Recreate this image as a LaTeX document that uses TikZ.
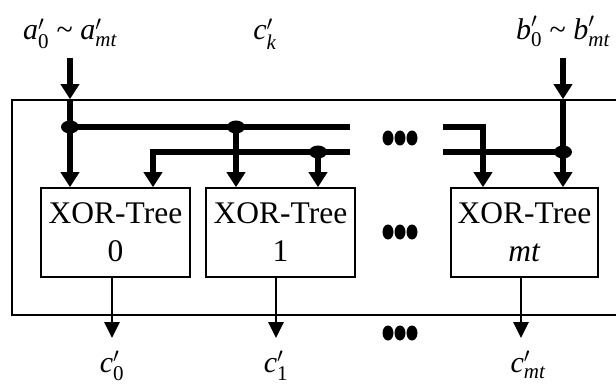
\documentclass[tikz,border=0pt]{standalone}
\usepackage{amsmath}
\usepackage{fontspec}
\setmainfont{Liberation Serif}
\usetikzlibrary{arrows.meta}

% three bold dots in a row
\newcommand{\dotrow}[2]{\foreach \dx in {-12,0,12} \fill (#1+\dx,#2) ellipse [x radius=5.5pt, y radius=7.5pt];}

\begin{document}
\begin{tikzpicture}[x=1pt, y=1pt,
    treebox/.style={draw, line width=1.6pt, minimum width=149pt, minimum height=89pt,
        align=center, inner sep=0pt, font=\fontsize{31.5}{38}\selectfont},
    bus/.style={line width=5.7pt},
    busarrow/.style={line width=5.7pt, -{Triangle[width=18pt,length=15pt]}},
    outarrow/.style={line width=2.7pt, -{Triangle[width=15pt,length=16pt]}},
    lbl/.style={font=\fontsize{30}{36}\selectfont, inner sep=0pt, anchor=base}]
        \useasboundingbox (0,0) rectangle (616,389);

        % Outer frame (right side runs off the page)
        \node[draw, line width=1.6pt, minimum width=618pt, minimum height=215pt] (frame) at (321,181.5) {};

        % XOR trees
        \node[treebox] (t0) at (115.5,156.5) {XOR-Tree\\0};
        \node[treebox] (t1) at (280.5,156.5) {XOR-Tree\\1};
        \node[treebox, minimum width=147pt] (tmt) at (524.5,156.5) {XOR-Tree\\\textit{mt}};

        % Labels
        \node[lbl] (ain) at (70,349) {$\textit{a}^{\prime}_{\textrm{0}}$ \textasciitilde{} $\textit{a}^{\prime}_{\textit{mt}}$};
        \node[lbl] (ck) at (265,349) {$\textit{c}^{\prime}_{\textit{k}}$};
        \node[lbl] (bin) at (563,349) {$\textit{b}^{\prime}_{\textrm{0}}$ \textasciitilde{} $\textit{b}^{\prime}_{\textit{mt}}$};
        \node[lbl] (c0) at (112,17) {$\textit{c}^{\prime}_{\textrm{0}}$};
        \node[lbl] (c1) at (276,17) {$\textit{c}^{\prime}_{\textrm{1}}$};
        \node[lbl] (cmt) at (528,17) {$\textit{c}^{\prime}_{\textit{mt}}$};

        % Points on the buses
        \coordinate (as) at (70,331);
        \coordinate (bs) at (563,331);
        \coordinate (ja) at (70,262);
        \coordinate (j1) at (236,262);
        \coordinate (j2) at (318,237);
        \coordinate (jb) at (563,237);
        \coordinate (lb) at (153,237);
        \coordinate (rb) at (483,262);
        \coordinate (o0) at (112,51);
        \coordinate (o1) at (276,51);
        \coordinate (omt) at (521,51);

        % Inputs
        \draw[busarrow] (as) -- (as |- frame.north);
        \draw[busarrow] (as |- frame.north) -- (as |- t0.north);
        \draw[busarrow] (bs) -- (bs |- frame.north);
        \draw[busarrow] (bs |- frame.north) -- (bs |- tmt.north);

        % Buses, left part
        \draw[bus] (ja) -- (350,262);
        \draw[busarrow] (350,237) -- (lb) -- (lb |- t0.north);
        \draw[busarrow] (j1) -- (j1 |- t1.north);
        \draw[busarrow] (j2) -- (j2 |- t1.north);

        % Buses, right part
        \draw[busarrow] (443,262) -- (rb) -- (rb |- tmt.north);
        \draw[bus] (443,237) -- (jb);

        % Junction dots
        \foreach \j in {ja,j1,j2,jb}
            \fill (\j) ellipse [x radius=9pt, y radius=6.5pt];

        % Outputs
        \draw[outarrow] (t0.south -| o0) -- (o0);
        \draw[outarrow] (t1.south -| o1) -- (o1);
        \draw[outarrow] (tmt.south -| omt) -- (omt);

        % Ellipses
        \dotrow{400}{251}
        \dotrow{400}{157}
        \dotrow{400}{56}
\end{tikzpicture}
\end{document}
